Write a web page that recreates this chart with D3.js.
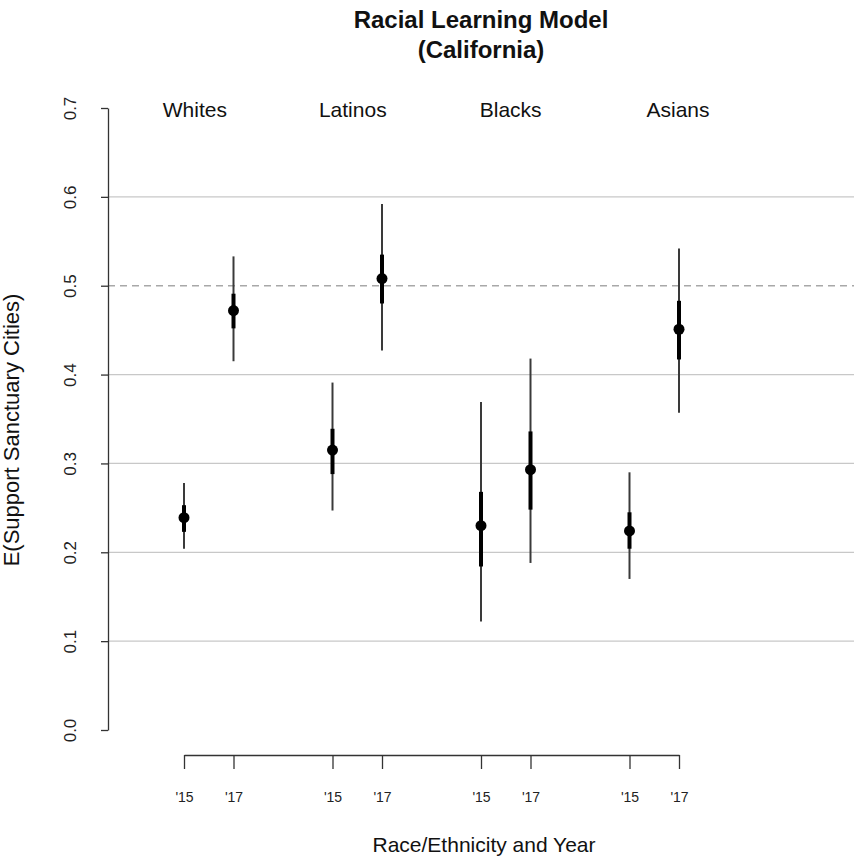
<!DOCTYPE html>
<html><head><meta charset="utf-8">
<script src="https://cdn.jsdelivr.net/npm/d3@7"></script>
<style>body{margin:0;background:#fff}svg{display:block}text{font-family:"Liberation Sans",Arial,Helvetica,sans-serif}</style>
</head><body>
<svg id="c" width="854" height="862"></svg>
<script>
const groups = ["Whites", "Latinos", "Blacks", "Asians"];
const groupLabelPos = [1.22, 4.41, 7.6, 10.98];
const years = ["'15", "'17"];
const xPos = [1, 2, 4, 5, 7, 8, 10, 11];
const xLabels = ["'15", "'17", "'15", "'17", "'15", "'17", "'15", "'17"];
const estimates = [0.239, 0.472, 0.315, 0.508, 0.230, 0.293, 0.224, 0.451];
const outerLo = [0.204, 0.415, 0.247, 0.427, 0.122, 0.188, 0.170, 0.357];
const outerHi = [0.278, 0.533, 0.391, 0.592, 0.369, 0.418, 0.290, 0.542];
const innerLo = [0.223, 0.452, 0.288, 0.480, 0.184, 0.248, 0.204, 0.417];
const innerHi = [0.253, 0.491, 0.339, 0.535, 0.268, 0.336, 0.245, 0.483];
const yTicks = [0, 0.1, 0.2, 0.3, 0.4, 0.5, 0.6, 0.7];
const gridVals = [0.1, 0.2, 0.3, 0.4, 0.5, 0.6];
const refLine = 0.5;

const svg = d3.select("#c");
const x = d3.scaleLinear().domain([1, 11]).range([184, 679]);
const y = d3.scaleLinear().domain([0, 0.7]).range([730, 108]);
const FONT = "'Liberation Sans',Arial,Helvetica,sans-serif";

// gridlines
svg.append("g").selectAll("line").data(gridVals.filter(v => v !== refLine)).join("line")
  .attr("x1", 108).attr("x2", 854).attr("y1", d => y(d)).attr("y2", d => y(d))
  .attr("stroke", "#c8c8c8").attr("stroke-width", 1.3);
svg.append("line").attr("x1", 108).attr("x2", 854).attr("y1", y(refLine)).attr("y2", y(refLine))
  .attr("stroke", "#a8a8a8").attr("stroke-width", 1.5).attr("stroke-dasharray", "7,5");

// y axis
const yAxis = svg.append("g").attr("transform", "translate(108,0)")
  .call(d3.axisLeft(y).tickValues(yTicks).tickFormat(d3.format(".1f")).tickSize(7).tickSizeOuter(0));
yAxis.select(".domain").attr("stroke", "#333").attr("stroke-width", 1.3);
yAxis.selectAll(".tick line").attr("stroke", "#333").attr("stroke-width", 1.3);
yAxis.selectAll(".tick text").attr("transform", "rotate(-90)").attr("x", 0).attr("y", -32)
  .attr("dy", 0).attr("text-anchor", "middle").attr("font-size", 17).attr("fill", "#222")
  .style("font-family", FONT);

// x axis
const xAxis = svg.append("g").attr("transform", "translate(0,755)")
  .call(d3.axisBottom(x).tickValues(xPos).tickFormat((d, i) => xLabels[i]).tickSize(14).tickSizeOuter(0));
xAxis.select(".domain").attr("stroke", "#333").attr("stroke-width", 1.3);
xAxis.selectAll(".tick line").attr("stroke", "#333").attr("stroke-width", 1.3);
xAxis.selectAll(".tick text").attr("y", 47).attr("dy", 0).attr("font-size", 14).attr("fill", "#222")
  .style("font-family", FONT);

// data
const data = xPos.map((p, i) => ({p, est: estimates[i], olo: outerLo[i], ohi: outerHi[i], ilo: innerLo[i], ihi: innerHi[i]}));
const g = svg.append("g");
g.selectAll("line.outer").data(data).join("line").attr("class", "outer")
  .attr("x1", d => x(d.p)).attr("x2", d => x(d.p)).attr("y1", d => y(d.olo)).attr("y2", d => y(d.ohi))
  .attr("stroke", "#3a3a3a").attr("stroke-width", 2);
g.selectAll("line.inner").data(data).join("line").attr("class", "inner")
  .attr("x1", d => x(d.p)).attr("x2", d => x(d.p)).attr("y1", d => y(d.ilo)).attr("y2", d => y(d.ihi))
  .attr("stroke", "#000").attr("stroke-width", 4);
g.selectAll("circle").data(data).join("circle")
  .attr("cx", d => x(d.p)).attr("cy", d => y(d.est)).attr("r", 5.5).attr("fill", "#000");

// group labels
svg.append("g").selectAll("text").data(groups).join("text")
  .attr("x", (d, i) => x(groupLabelPos[i])).attr("y", 117).attr("text-anchor", "middle")
  .attr("font-size", 21).attr("fill", "#111").text(d => d);

// titles
svg.append("text").attr("x", 481).attr("y", 28).attr("text-anchor", "middle")
  .attr("font-size", 24).attr("font-weight", "bold").attr("fill", "#111").text("Racial Learning Model");
svg.append("text").attr("x", 481).attr("y", 58).attr("text-anchor", "middle")
  .attr("font-size", 24).attr("font-weight", "bold").attr("fill", "#111").text("(California)");
svg.append("text").attr("x", 484).attr("y", 852).attr("text-anchor", "middle")
  .attr("font-size", 21).attr("fill", "#111").text("Race/Ethnicity and Year");
svg.append("text").attr("transform", "translate(19,430) rotate(-90)").attr("text-anchor", "middle")
  .attr("font-size", 22).attr("fill", "#111").text("E(Support Sanctuary Cities)");
</script>
</body></html>
